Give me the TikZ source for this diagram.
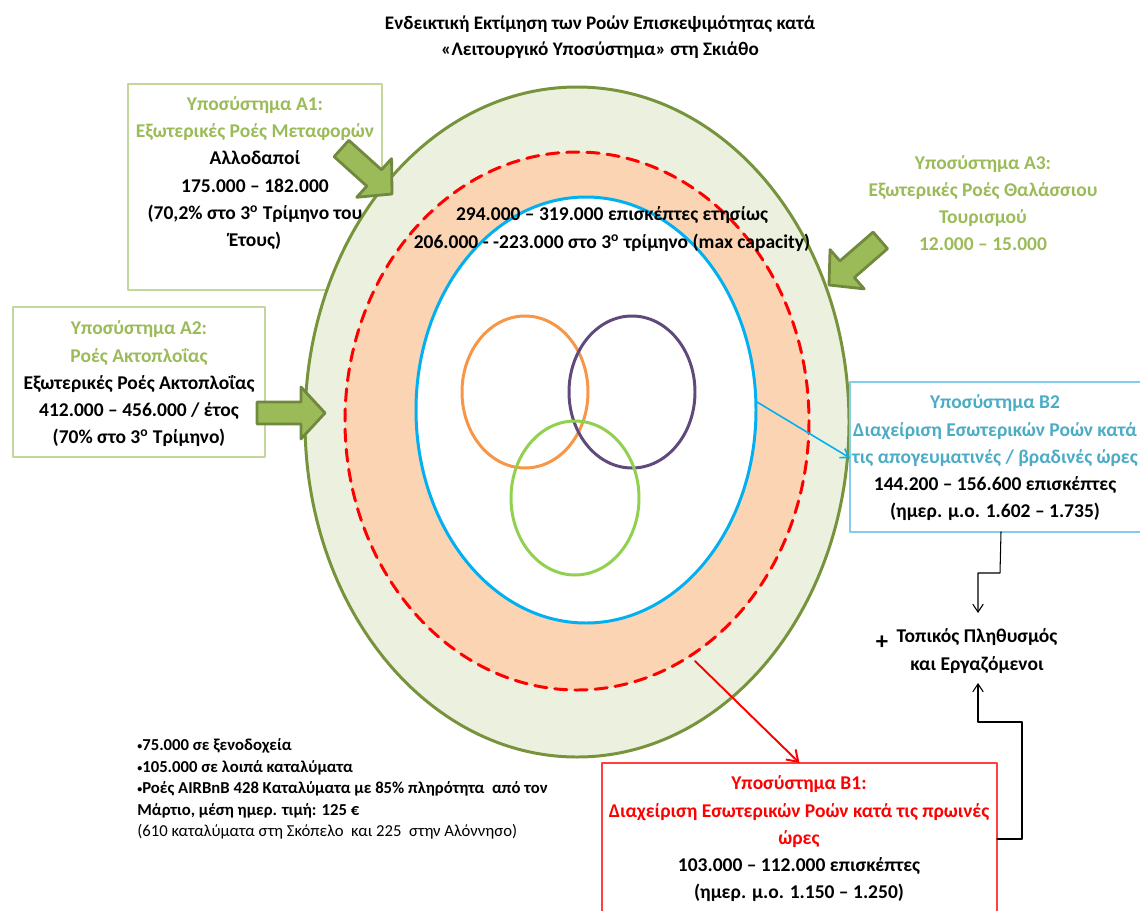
\documentclass[tikz,border=0pt]{standalone}
\usepackage{fontspec}
\setmainfont{Carlito}
\usetikzlibrary{arrows.meta}

\definecolor{olivering}{RGB}{119,147,60}
\definecolor{palegreen}{RGB}{235,241,222}
\definecolor{peach}{RGB}{251,212,180}
\definecolor{skyblue}{RGB}{0,176,240}
\definecolor{leafgreen}{RGB}{155,187,89}
\definecolor{leafdark}{RGB}{113,137,63}
\definecolor{boxgreen}{RGB}{195,214,155}
\definecolor{boxblue}{RGB}{130,205,235}
\definecolor{tealtext}{RGB}{75,172,198}
\definecolor{orangering}{RGB}{247,150,70}
\definecolor{purplering}{RGB}{96,74,123}
\definecolor{limering}{RGB}{146,208,80}

\newcommand{\blockarrow}[3]{%
  \draw[line width=1.6pt,draw=leafdark,fill=leafgreen,shift={(#1,#2)},rotate=#3]
    (0,0)--(-24,26)--(-24,11)--(-68,11)--(-68,-11)--(-24,-11)--(-24,-26)--cycle;}
\newcommand{\dotitem}{\raisebox{0.12ex}{\scalebox{0.6}{•}}}

\begin{document}
\begin{tikzpicture}[x=0.02cm,y=-0.02cm,line cap=round,line join=round,
  frame/.style={inner sep=0pt,outer sep=0pt,line width=0.8pt},
  boxtxt/.style={font=\fontsize{11.1}{15.5}\selectfont\bfseries,align=center,inner sep=0pt},
  ring/.style={line width=1.7pt},
  flow/.style={line width=0.6pt,-{Straight Barb[length=4.5pt,width=6pt]}}]
  \useasboundingbox (0,0) rectangle (1140,910);

  \node[frame,draw=boxgreen,minimum width=5.08cm,minimum height=4.12cm] (a1box) at (255,187) {};
  \node[frame,draw=boxgreen,minimum width=5.04cm,minimum height=3cm] (a2box) at (139,382) {};

  \draw[ring,draw=olivering,fill=palegreen] (577,422) ellipse [x radius=272,y radius=335];
  \fill[peach] (577,421) ellipse [x radius=232,y radius=269];
  \draw[ring,red,dash pattern=on 7pt off 4.5pt] (577,421) ellipse [x radius=232,y radius=269];
  \draw[ring,draw=skyblue,fill=white] (586,410) ellipse [x radius=170,y radius=213];
  \draw[ring,orangering] (525,392) ellipse [x radius=63,y radius=76];
  \draw[ring,purplering] (632,392) ellipse [x radius=63,y radius=76];
  \draw[ring,limering] (575,498) ellipse [x radius=64,y radius=77];

  \node[frame,draw=boxblue,fill=white,minimum width=6.04cm,minimum height=3cm] (b2box) at (1001,457) {};
  \node[frame,draw=red!75,fill=white,minimum width=7.9cm,minimum height=3.04cm] (b1box) at (799.5,839) {};

  \blockarrow{392}{194}{-42}
  \blockarrow{325}{413}{0}
  \blockarrow{829}{285}{-139}

  \node[font=\fontsize{10.9}{14.7}\selectfont\bfseries,align=center,inner sep=0pt] (title) at (600,37)
    {Ενδεικτική Εκτίμηση των Ροών Επισκεψιμότητας κατά\\«Λειτουργικό Υποσύστημα» στη Σκιάθο};
  \node[boxtxt] (a1) at (255,173) {\textcolor{leafgreen}{Υποσύστημα Α1:}\\
    \textcolor{leafgreen}{Εξωτερικές Ροές Μεταφορών}\\Αλλοδαποί\\175.000 – 182.000\\
    (70,2\% στο 3\textsuperscript{ο} Τρίμηνο του\\Έτους)};
  \node[boxtxt] (a2) at (139,384) {\textcolor{leafgreen}{Υποσύστημα Α2:}\\
    \textcolor{leafgreen}{Ροές Ακτοπλοΐας}\\Εξωτερικές Ροές Ακτοπλοΐας\\
    412.000 – 456.000 / έτος\\(70\% στο 3\textsuperscript{ο} Τρίμηνο)};
  \node[boxtxt,text=leafgreen] (a3) at (983,203) {Υποσύστημα Α3:\\Εξωτερικές Ροές Θαλάσσιου\\
    Τουρισμού\\12.000 – 15.000};
  \node[boxtxt] (visits) at (612,229) {294.000 – 319.000 επισκέπτες ετησίως\\
    206.000 - -223.000 στο 3\textsuperscript{ο} τρίμηνο (max capacity)};
  \node[boxtxt] (b2) at (995,458) {\textcolor{tealtext}{Υποσύστημα Β2}\\
    \textcolor{tealtext}{Διαχείριση Εσωτερικών Ροών κατά}\\
    \textcolor{tealtext}{τις απογευματινές / βραδινές ώρες}\\
    144.200 – 156.600 επισκέπτες\\(ημερ. μ.ο. 1.602 – 1.735)};
  \node[boxtxt] (b1) at (799,839) {\textcolor{red}{Υποσύστημα Β1:}\\
    \textcolor{red}{Διαχείριση Εσωτερικών Ροών κατά τις πρωινές}\\\textcolor{red}{ώρες}\\
    103.000 – 112.000 επισκέπτες\\(ημερ. μ.ο. 1.150 – 1.250)};
  \node[boxtxt] (local) at (977,651) {Τοπικός Πληθυσμός\\και Εργαζόμενοι};
  \node[font=\fontsize{14}{16}\selectfont\bfseries,inner sep=0pt] (plus) at (882,643) {+};
  \node[font=\fontsize{9.5}{12.3}\selectfont,align=left,inner sep=0pt,anchor=west] (stays) at (137,789)
    {\textbf{\dotitem75.000 σε ξενοδοχεία}\\\textbf{\dotitem105.000 σε λοιπά καταλύματα}\\
    \textbf{\dotitem Ροές AIRBnB 428 Καταλύματα με 85\% πληρότητα \ από τον}\\
    \textbf{Μάρτιο, μέση ημερ. τιμή: 125 €}\\
    (610 καταλύματα στη Σκόπελο \ και 225 \ στην Αλόννησο)};

  % connectors
  \coordinate (bluept) at (757,402);
  \coordinate (redpt) at (695,661);
  \coordinate (localtop) at (978,613);
  \coordinate (localbot) at (978,683);
  \draw[flow,skyblue,line width=0.9pt] (bluept) -- ([yshift=-0.02cm]b2box.west);
  \draw[flow,red,line width=1.1pt,-{Straight Barb[length=6pt,width=8pt]}] (redpt) -- (b1box.north);
  \draw[flow] (b2box.south) -- (1000,573) -| (localtop);
  \draw[flow] (b1box.east) -- (1022,839) -- (1022,722) -| (localbot);
\end{tikzpicture}
\end{document}
